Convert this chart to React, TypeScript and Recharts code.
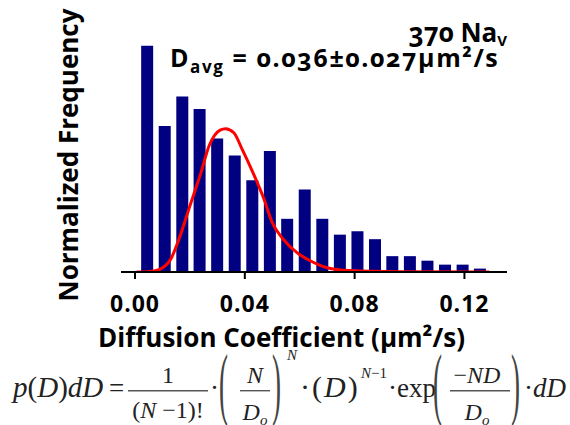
import { ComposedChart, Bar, Line, XAxis, YAxis } from "recharts";

// histogram bins (bin centre, normalized frequency)
const binCenters = [
  0.0043, 0.0107, 0.0171, 0.0234, 0.0298, 0.0362, 0.0426, 0.049, 0.0553, 0.0617,
  0.0681, 0.0745, 0.0809, 0.0873, 0.0936, 0.1, 0.1064, 0.1128, 0.1192, 0.1255,
];
const binFreq = [
  0.2, 0.129, 0.155, 0.144, 0.118, 0.103, 0.081, 0.107, 0.047, 0.073,
  0.047, 0.033, 0.036, 0.029, 0.014, 0.014, 0.01, 0.0065, 0.0065, 0.003,
];

// fitted distribution
const fitX = [
  0.0006, 0.0055, 0.009, 0.013, 0.016, 0.02, 0.024, 0.027, 0.031, 0.033, 0.036,
  0.039, 0.043, 0.047, 0.05, 0.054, 0.059, 0.064, 0.07, 0.078, 0.096, 0.129,
];
const fitY = [
  0, 0.0005, 0.0024, 0.0112, 0.0289, 0.0584, 0.0876, 0.1115, 0.1254, 0.1266, 0.123,
  0.1086, 0.0876, 0.0643, 0.0436, 0.0289, 0.0171, 0.0097, 0.0038, 0.0013, 0.0003, 0,
];

const xTicks = [0, 0.04, 0.08, 0.12];
const xDomain = [-0.0051, 0.1355];

const bins = binCenters.map((x, i) => ({ x, freq: binFreq[i] }));
const fit = fitX.map((x, i) => ({ x, p: fitY[i] }));

const SANS = "'Open Sans', Lato, sans-serif";
const SERIF = "'Liberation Serif', 'DejaVu Serif', serif";
const INK = "#222";

function BigParen({ x, cy, ch }: { x: number; cy: number; ch: string }) {
  return (
    <g transform={`translate(${x} ${cy}) scale(1 3)`}>
      <text x={0} y={6.9} fontSize={27} fontFamily={SERIF} fill="#444">
        {ch}
      </text>
    </g>
  );
}

function Formula() {
  return (
    <g fontFamily={SERIF} fill={INK}>
      <text x={13} y={397} fontSize={29} fontStyle="italic">
        p<tspan fontStyle="normal">(</tspan>D<tspan fontStyle="normal">)</tspan>dD
      </text>
      <text x={109} y={397} fontSize={27}>=</text>

      <text x={168} y={383} fontSize={24} textAnchor="middle">1</text>
      <line x1={128} x2={208} y1={390.7} y2={390.7} stroke="#555" strokeWidth={1.4} />
      <text x={168} y={418} fontSize={24} textAnchor="middle">
        (<tspan fontStyle="italic">N</tspan> −1)!
      </text>
      <text x={210} y={397} fontSize={27}>·</text>

      <BigParen x={219} cy={389} ch="(" />
      <text x={255} y={383} fontSize={24} textAnchor="middle" fontStyle="italic">N</text>
      <line x1={240} x2={270} y1={390.7} y2={390.7} stroke="#555" strokeWidth={1.4} />
      <text x={255} y={420} fontSize={24} textAnchor="middle" fontStyle="italic">
        D<tspan fontSize={15} dy={5}>o</tspan>
      </text>
      <BigParen x={272} cy={389} ch=")" />
      <text x={287} y={360} fontSize={15} fontStyle="italic">N</text>

      <text x={300} y={397} fontSize={30} letterSpacing={2}>
        ·(<tspan fontStyle="italic">D</tspan>)
      </text>
      <text x={361} y={378} fontSize={15}>
        <tspan fontStyle="italic">N</tspan>−1
      </text>
      <text x={388} y={397} fontSize={27}>·exp</text>

      <BigParen x={433} cy={389} ch="(" />
      <text x={477} y={383} fontSize={24} textAnchor="middle">
        −<tspan fontStyle="italic">ND</tspan>
      </text>
      <line x1={450} x2={510} y1={390.7} y2={390.7} stroke="#555" strokeWidth={1.4} />
      <text x={477} y={420} fontSize={24} textAnchor="middle" fontStyle="italic">
        D<tspan fontSize={15} dy={5}>o</tspan>
      </text>
      <BigParen x={511} cy={389} ch=")" />
      <text x={524} y={397} fontSize={27}>
        ·<tspan fontStyle="italic">dD</tspan>
      </text>
    </g>
  );
}

export default function App() {
  return (
    <div
      style={{
        position: "absolute",
        left: 0,
        top: 0,
        width: 570,
        height: 425,
        background: "#fff",
        overflow: "hidden",
      }}
    >
      <ComposedChart
        width={570}
        height={340}
        data={bins}
        margin={{ top: 23, right: 63, left: 121, bottom: 0 }}
      >
        <XAxis
          xAxisId="bins"
          dataKey="x"
          type="number"
          domain={xDomain}
          allowDataOverflow
          ticks={xTicks}
          tickFormatter={(v: number) => v.toFixed(2)}
          height={68}
          tickSize={7}
          tickMargin={17}
          axisLine={{ stroke: "#000", strokeWidth: 2 }}
          tickLine={{ stroke: "#000", strokeWidth: 2 }}
          tick={{ fill: "#000", fontSize: 23, fontWeight: 700, fontFamily: SANS, letterSpacing: 1 }}
        />
        <XAxis xAxisId="fit" dataKey="x" type="number" domain={xDomain} allowDataOverflow hide />
        <YAxis
          domain={[0, 0.22]}
          allowDataOverflow
          width={0}
          tick={false}
          tickLine={false}
          axisLine={{ stroke: "#000", strokeWidth: 2 }}
        />
        <Bar xAxisId="bins" dataKey="freq" fill="#000080" barSize={12} isAnimationActive={false} />
        <Line
          xAxisId="fit"
          data={fit}
          dataKey="p"
          type="monotone"
          stroke="#ff0000"
          strokeWidth={3}
          dot={false}
          isAnimationActive={false}
        />
      </ComposedChart>

      <svg
        width={570}
        height={425}
        style={{ position: "absolute", left: 0, top: 0, pointerEvents: "none" }}
      >
        <g fontFamily={SANS} fontWeight={700} fill="#000">
          <text
            x={78}
            y={155}
            transform="rotate(-90 78 155)"
            textAnchor="middle"
            fontSize={26}
          >
            Normalized Frequency
          </text>
          <text x={281.5} y={347} textAnchor="middle" fontSize={26}>
            Diffusion Coefficient (µm²/s)
          </text>
          <text
            x={507}
            y={42}
            textAnchor="end"
            fontSize={26}
            style={{ fontVariantNumeric: "oldstyle-nums" }}
          >
            370 Na<tspan fontSize={15} dy={4}>V</tspan>
          </text>
          <text
            x={170}
            y={67}
            fontSize={25}
            letterSpacing={1.6}
            style={{ fontVariantNumeric: "oldstyle-nums" }}
          >
            D<tspan fontSize={17} dy={6}>avg</tspan>
            <tspan dy={-6}> = 0.036±0.027µm²/s</tspan>
          </text>
        </g>
        <Formula />
      </svg>
    </div>
  );
}
